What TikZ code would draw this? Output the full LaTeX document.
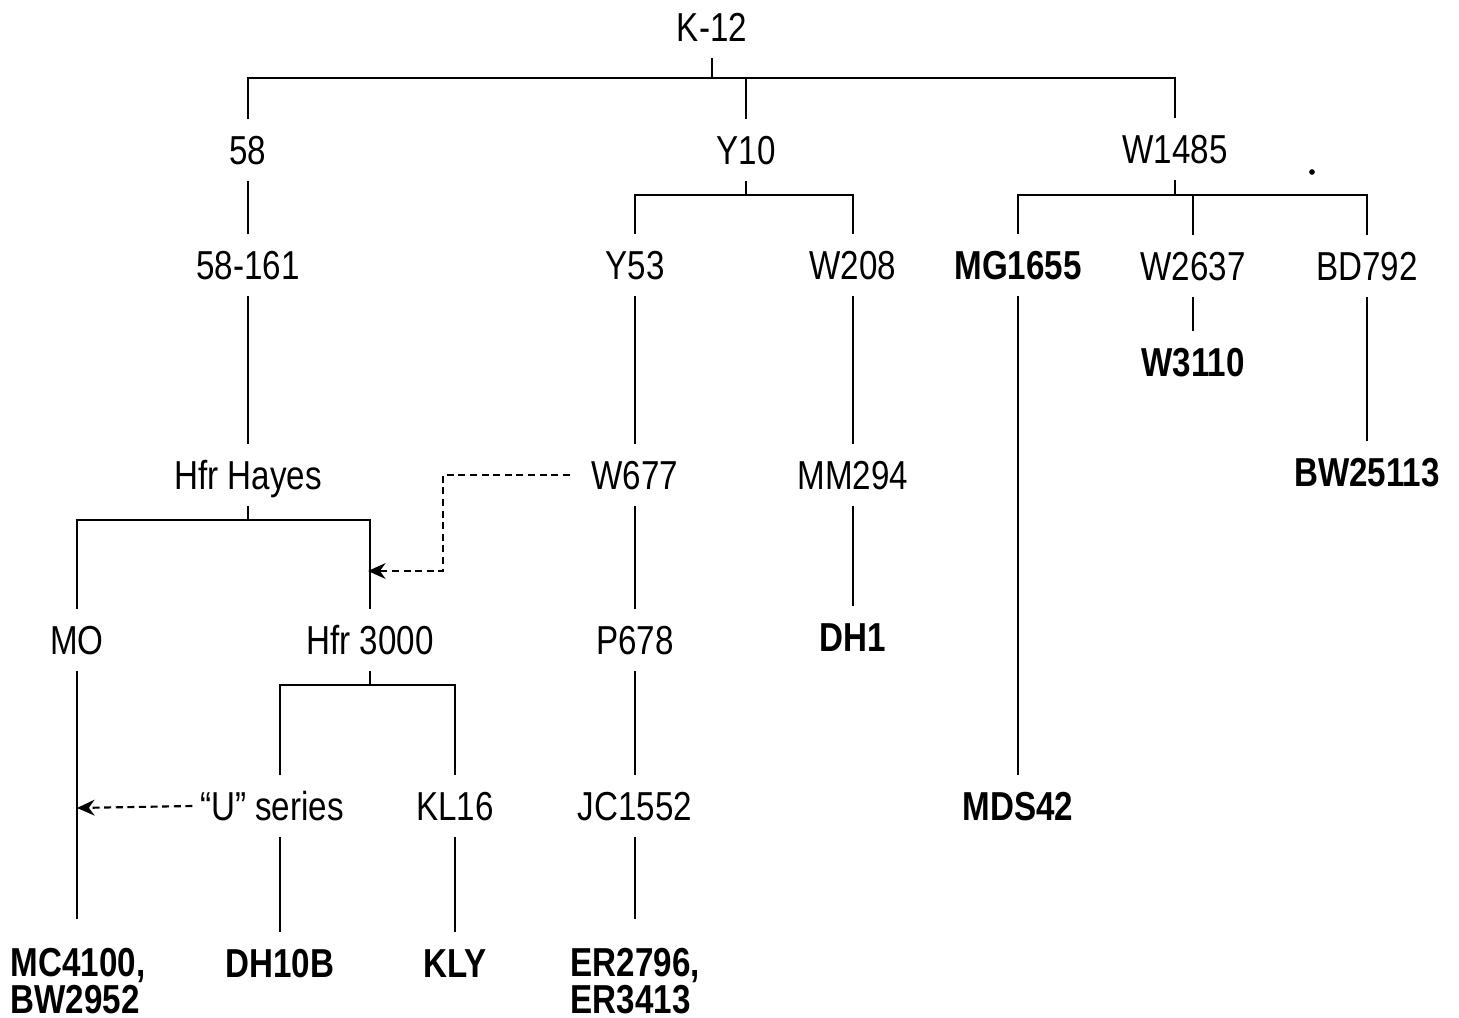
\documentclass[tikz,border=0pt]{standalone}
\usepackage{fontspec}
\setmainfont{Liberation Sans}[FakeStretch=0.82]
\usetikzlibrary{positioning, arrows.meta, calc}

\tikzset{
  strain/.style={inner xsep=2pt, inner ysep=4.5pt, text height=8.2pt, text depth=0pt,
    font=\fontsize{11.5}{10.8}\selectfont},
  keystrain/.style={strain, font=\fontsize{11.5}{10.8}\selectfont\bfseries},
  pairstrain/.style={inner xsep=0pt, inner ysep=8pt, anchor=north west, align=left,
    font=\fontsize{11.5}{10.6}\selectfont\bfseries},
  link/.style={line width=0.65pt},
  transfer/.style={line width=0.6pt, dash pattern=on 2pt off 1.3pt,
    -{Stealth[length=5pt,width=4.5pt]}}
}

\begin{document}
\begin{tikzpicture}[x=0.01cm, y=-0.01cm]
\useasboundingbox (0,0) rectangle (1459,1018);

% strains
\node[strain] (k12) at (712,27) {K-12};

\node[strain] (n58) at (248,150) {58};
\node[strain] (y10) at (746,150) {Y10};
\node[strain] (w1485) at (1175,149) {W1485};

\node[strain] (n58161) at (248,265) {58-161};
\node[strain] (y53) at (635,265) {Y53};
\node[strain] (w208) at (853,265) {W208};
\node[keystrain] (mg1655) at (1018,265) {MG1655};
\node[strain] (w2637) at (1193,266) {W2637};
\node[strain] (bd792) at (1367,266) {BD792};

\node[keystrain] (w3110) at (1193,362) {W3110};

\node[strain] (hayes) at (248,475) {Hfr Hayes};
\node[strain] (w677) at (635,475) {W677};
\node[strain] (mm294) at (853,475) {MM294};
\node[keystrain] (bw25113) at (1367,472) {BW25113};

\node[strain] (mo) at (77,640) {MO};
\node[strain] (hfr3000) at (370,640) {Hfr 3000};
\node[strain] (p678) at (635,640) {P678};
\node[keystrain] (dh1) at (853,637) {DH1};

\node[strain] (useries) at (272,806) {“U” series};
\node[strain] (kl16) at (455,806) {KL16};
\node[strain] (jc1552) at (635,806) {JC1552};
\node[keystrain] (mds42) at (1018,806) {MDS42};

\node[keystrain] (dh10b) at (280,963) {DH10B};
\node[keystrain] (kly) at (455,963) {KLY};
\node[pairstrain] (mc4100) at (10,919) {MC4100,\\BW2952};
\node[pairstrain] (er2796) at (570,919) {ER2796,\\ER3413};

% bracket levels
\coordinate (topbar) at (712,78);
\coordinate (ybar) at (746,195);
\coordinate (wbar) at (1175,195);
\coordinate (hbar) at (248,520);
\coordinate (fbar) at (368,685);

% tree
\draw[link] (k12.south) -- (k12.south |- topbar);
\draw[link] (n58.north) |- (topbar) -| (w1485.north);
\draw[link] (y10.north) -- (y10.north |- topbar);

\draw[link] (n58.south) -- (n58161.north);
\draw[link] (n58161.south) -- (hayes.north);
\draw[link] (hayes.south) -- (hayes.south |- hbar);
\draw[link] (mo.north) |- (hbar) -| (hfr3000.north);
\draw[link] (mo.south) -- (mo.south |- mc4100.north);
\draw[link] (hfr3000.south) -- (hfr3000.south |- fbar);
\draw[link] (useries.north -| dh10b.north) |- (fbar) -| (kl16.north);
\draw[link] (useries.south -| dh10b.north) -- (dh10b.north);
\draw[link] (kl16.south) -- (kly.north);

\draw[link] (y10.south) -- (y10.south |- ybar);
\draw[link] (y53.north) |- (ybar) -| (w208.north);
\draw[link] (y53.south) -- (w677.north);
\draw[link] (w677.south) -- (p678.north);
\draw[link] (p678.south) -- (jc1552.north);
\draw[link] (jc1552.south) -- (jc1552.south |- er2796.north);
\draw[link] (w208.south) -- (mm294.north);
\draw[link] (mm294.south) -- (dh1.north);

\draw[link] (w1485.south) -- (w1485.south |- wbar);
\draw[link] (mg1655.north) |- (wbar) -| (bd792.north);
\draw[link] (w2637.north) -- (w2637.north |- wbar);
\draw[link] (mg1655.south) -- (mds42.north);
\draw[link] (w2637.south) -- (w3110.north);
\draw[link] (bd792.south) -- (bw25113.north);

% transfers
\coordinate (wbend) at (443,571);
\coordinate (wtip) at (368,571);
\coordinate (utip) at (77,808);
\draw[transfer] ([xshift=-4pt]w677.west) -| (wbend) -- (wtip);
\draw[transfer] (useries.west) -- (utip);

\fill (1312,172) circle (0.8pt);
\end{tikzpicture}
\end{document}
